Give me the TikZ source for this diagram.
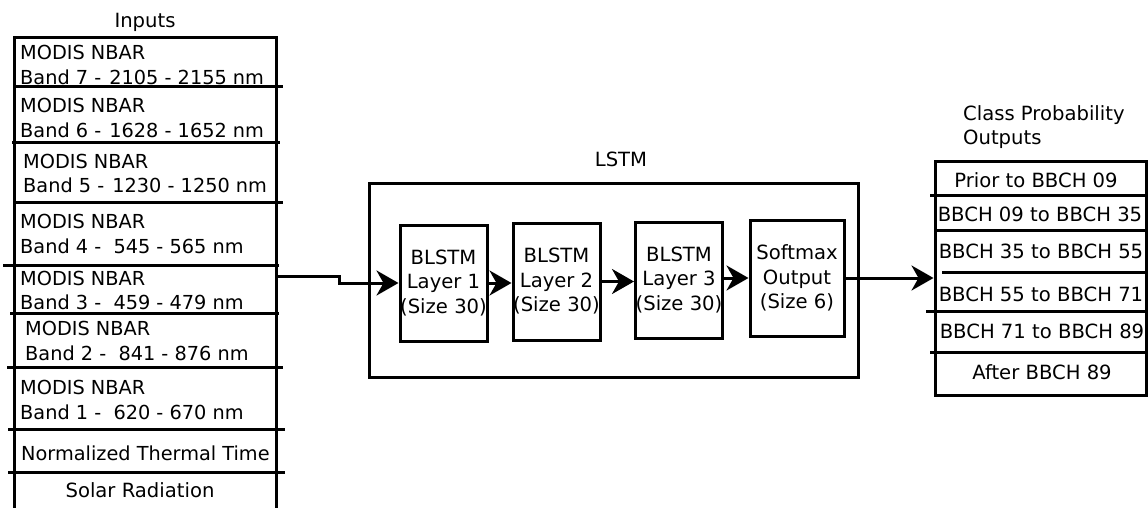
\documentclass[tikz,border=0pt]{standalone}
\usepackage{fontspec}
\setmainfont{DejaVu Sans}
\usetikzlibrary{arrows.meta}
\begin{document}
\begin{tikzpicture}[x=1pt,y=-1pt,
  box/.style={draw,line width=3pt,inner sep=0pt},
  lbl/.style={inner sep=0pt,font=\fontsize{19.6}{24.5}\selectfont},
  cell/.style={lbl,align=left,anchor=west,font=\fontsize{19.3}{24.5}\selectfont},
  layer/.style={box,lbl,align=center},
  div/.style={line width=3pt},
  arr/.style={line width=3pt,-{Stealth[length=22pt,width=25pt,inset=7pt]}}
]
\useasboundingbox (0,0) rectangle (1148,508);
% titles
\node[lbl] (tin) at (145,22) {Inputs};
\node[lbl] (tlstm) at (621,159) {LSTM};
\node[lbl,align=left,anchor=west] (tout) at (963,127) {Class Probability\\Outputs};
% inputs column
\node[box,minimum width=262pt,minimum height=482pt] (inputs) at (145,279) {};
\draw[div] (14,87) -- (283,87);
\draw[div] (12,143) -- (280,143);
\draw[div] (14,202) -- (283,202);
\draw[div] (3,265) -- (279,265);
\draw[div] (10,313) -- (279,313);
\draw[div] (7,367) -- (283,367);
\draw[div] (8,429) -- (285,429);
\draw[div] (8,472) -- (285,472);
\node[cell] (b7) at (20,65) {MODIS NBAR\\Band 7 - \kern2pt 2105 - 2155 nm};
\node[cell] (b6) at (20,118) {MODIS NBAR\\Band 6 - \kern2pt 1628 - 1652 nm};
\node[cell] (b5) at (23,173.5) {MODIS NBAR\\Band 5 - \kern2pt 1230 - 1250 nm};
\node[cell] (b4) at (20,234) {MODIS NBAR\\Band 4 -~ 545 - 565 nm};
\node[cell] (b3) at (20,290.5) {MODIS NBAR\\Band 3 -~ 459 - 479 nm};
\node[cell] (b2) at (25,341) {MODIS NBAR\\Band 2 -~ 841 - 876 nm};
\node[cell] (b1) at (20,400) {MODIS NBAR\\Band 1 -~ 620 - 670 nm};
\node[cell] (ntt) at (21,453) {Normalized Thermal Time};
\node[lbl] (sr) at (140,490) {Solar Radiation};
% LSTM
\node[box,minimum width=489pt,minimum height=194pt] (lstm) at (613.5,280) {};
\node[layer,minimum width=87pt,minimum height=116pt] (L1) at (443.5,283) {BLSTM\\Layer 1\\(Size 30)};
\node[layer,minimum width=87pt,minimum height=117pt] (L2) at (556.5,281.5) {BLSTM\\Layer 2\\(Size 30)};
\node[layer,minimum width=87pt,minimum height=116pt] (L3) at (679,280) {BLSTM\\Layer 3\\(Size 30)};
\node[layer,minimum width=94pt,minimum height=116pt] (SM) at (797,278) {Softmax\\Output\\(Size 6)};
% outputs
\node[box,minimum width=211pt,minimum height=234pt] (outputs) at (1040.5,278) {};
\draw[div] (930,195) -- (1146,195);
\draw[div] (935,230) -- (1146,230);
\draw[div] (942,272) -- (1146,272);
\draw[div] (926,311) -- (1146,311);
\draw[div] (930,352) -- (1146,352);
\node[lbl] (o1) at (1036,180) {Prior to BBCH 09};
\node[lbl] (o2) at (1040,214) {BBCH 09 to BBCH 35};
\node[lbl] (o3) at (1041,251) {BBCH 35 to BBCH 55};
\node[lbl] (o4) at (1041,294) {BBCH 55 to BBCH 71};
\node[lbl] (o5) at (1042,331) {BBCH 71 to BBCH 89};
\node[lbl] (o6) at (1042,372) {After BBCH 89};
% connectors
\coordinate (inout) at (276,276);
\coordinate (step) at (339,276);
\draw[arr] (inout) -- (step) -- (step |- L1.west) -- (L1.west);
\draw[arr] (L1.east) -- (L1.east -| L2.west);
\draw[arr] (L2.east) -- (L2.east -| L3.west);
\draw[arr] (SM.west -| L3.east) -- (SM.west);
\draw[arr] (SM.east) -- (SM.east -| outputs.west);
\end{tikzpicture}
\end{document}
